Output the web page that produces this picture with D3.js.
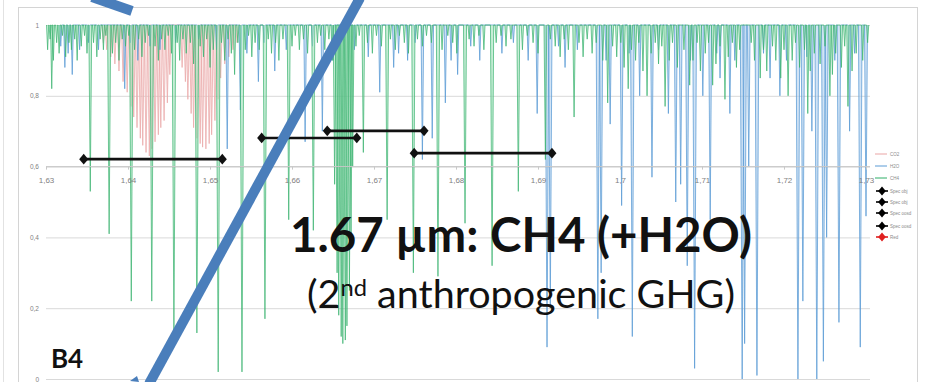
<!DOCTYPE html>
<html>
<head>
<meta charset="utf-8">
<script src="https://cdn.jsdelivr.net/npm/d3@7/dist/d3.min.js"></script>
<style>
  html, body { margin: 0; padding: 0; background: #fff; }
  svg { display: block; }
</style>
</head>
<body>
<svg id="chart" width="926" height="382"></svg>
<script>
// Axis ticks and labels (decimal comma)
const xTicks = [1.63, 1.64, 1.65, 1.66, 1.67, 1.68, 1.69, 1.70, 1.71, 1.72, 1.73];
const xTickLabels = ["1,63", "1,64", "1,65", "1,66", "1,67", "1,68", "1,69", "1,7", "1,71", "1,72", "1,73"];
const yTicks = [0, 0.2, 0.4, 0.6, 0.8, 1];
const yTickLabels = ["0", "0,2", "0,4", "0,6", "0,8", "1"];

// Absorption lines: [wavelength (µm), transmission at line centre]
const co2Lines = [
  [1.6370, .95], [1.6374, .93], [1.6379, .91], [1.6384, .89], [1.6389, .87], [1.6394, .84],
  [1.6399, .81], [1.6404, .77], [1.6407, .74], [1.6411, .71], [1.6415, .68], [1.6418, .66],
  [1.6422, .64], [1.6426, .63], [1.6429, .65], [1.6433, .67], [1.6437, .69], [1.6440, .71],
  [1.6444, .73], [1.6448, .78], [1.6451, .86],
  [1.6466, .88], [1.6470, .84], [1.6473, .79], [1.6477, .75], [1.6480, .71], [1.6484, .68],
  [1.6488, .665], [1.6491, .655], [1.6495, .65], [1.6499, .665], [1.6502, .69], [1.6506, .73],
  [1.6510, .79], [1.6513, .85], [1.6518, .89], [1.6523, .91], [1.6528, .93], [1.6533, .95]
];

const h2oLines = [
  [1.6323, .88], [1.6332, .86], [1.6341, .93], [1.6396, .82], [1.6412, .90], [1.6439, .93],
  [1.6521, .65], [1.6537, .76], [1.6559, .84], [1.6579, .87], [1.6616, .67], [1.6637, .70],
  [1.6693, .91], [1.6707, .81], [1.6724, .88], [1.6741, .90], [1.6759, .62], [1.6771, .68],
  [1.6787, .78], [1.6802, .86], [1.6829, .90], [1.6899, .75], [1.6911, .09], [1.6915, .20],
  [1.6933, .88], [1.6973, .17], [1.6977, .30], [1.6988, .72], [1.7002, .49], [1.7015, .12],
  [1.7024, .80], [1.7039, .57], [1.7059, .75], [1.7068, .50], [1.7074, .55], [1.7082, .32],
  [1.7091, .03], [1.7101, .80], [1.7110, .45], [1.7122, .85], [1.7134, .75], [1.7149, .00],
  [1.7152, .10], [1.7157, .60], [1.7167, .01], [1.7183, .85], [1.7195, .80], [1.7217, .00],
  [1.7223, .22], [1.7234, .70], [1.7240, .00], [1.7248, .05], [1.7252, .40], [1.7267, .16],
  [1.7280, .70], [1.7293, .09], [1.7300, .46],
  // weak lines
  [1.6318, .94], [1.6327, .92], [1.6352, .95], [1.6364, .93], [1.6403, .95], [1.6427, .94],
  [1.6458, .95], [1.6486, .96], [1.6508, .93], [1.6545, .92], [1.6566, .95], [1.6593, .93],
  [1.6625, .94], [1.6650, .90], [1.6676, .93], [1.6730, .92], [1.6750, .95], [1.6794, .90],
  [1.6818, .94], [1.6856, .92], [1.6870, .95], [1.6888, .90], [1.6925, .94], [1.6948, .93],
  [1.6983, .90], [1.7011, .92], [1.7047, .93], [1.7086, .90], [1.7118, .92], [1.7140, .90],
  [1.7175, .92], [1.7203, .90], [1.7228, .91], [1.7262, .90], [1.7286, .92]
];

const ch4Strong = [
  [1.6307, .82], [1.6354, .53], [1.6377, .41], [1.6404, .22], [1.6429, .22], [1.6456, .13],
  [1.6484, .13], [1.6510, .02], [1.6539, .02], [1.6567, .17], [1.6596, .45], [1.6626, .42],
  [1.6652, .55], [1.6655, .30], [1.6657, .18], [1.6660, .12], [1.6662, .10], [1.6665, .11],
  [1.6667, .15], [1.6670, .25], [1.6672, .40], [1.6674, .60],
  [1.6687, .64], [1.6716, .45], [1.6748, .30], [1.6778, .29], [1.6811, .44], [1.6844, .32],
  [1.6876, .53], [1.6909, .62], [1.6944, .74], [1.6985, .78], [1.7010, .82], [1.7033, .80],
  [1.7055, .77], [1.7085, .83], [1.7113, .83], [1.7128, .79], [1.7171, .85], [1.7205, .80],
  [1.7229, .75], [1.7256, .80], [1.7278, .77]
];

const ch4Weak = [
  [1.6302, .93], [1.6305, .96], [1.6309, .90], [1.6313, .95], [1.6316, .92], [1.6320, .97],
  [1.6324, .91], [1.6328, .95], [1.6331, .93], [1.6335, .96], [1.6338, .90], [1.6343, .94],
  [1.6347, .97], [1.6350, .92], [1.6358, .95], [1.6362, .91], [1.6366, .96], [1.6370, .93],
  [1.6373, .97], [1.6381, .92], [1.6385, .95], [1.6389, .90], [1.6393, .96], [1.6397, .94],
  [1.6401, .97], [1.6408, .93], [1.6413, .96], [1.6417, .91], [1.6421, .95], [1.6425, .97],
  [1.6433, .94], [1.6437, .90], [1.6441, .96], [1.6445, .93], [1.6449, .97], [1.6453, .92],
  [1.6460, .95], [1.6463, .90], [1.6467, .96], [1.6471, .92], [1.6476, .95], [1.6480, .89],
  [1.6488, .94], [1.6492, .91], [1.6496, .96], [1.6500, .88], [1.6504, .93], [1.6514, .95],
  [1.6518, .90], [1.6522, .96], [1.6526, .92], [1.6530, .86], [1.6534, .95], [1.6543, .93],
  [1.6547, .97], [1.6551, .91], [1.6555, .95], [1.6560, .93], [1.6571, .96], [1.6575, .92],
  [1.6580, .95], [1.6584, .90], [1.6589, .96], [1.6600, .94], [1.6604, .97], [1.6609, .93],
  [1.6614, .96], [1.6619, .92], [1.6631, .95], [1.6635, .97], [1.6640, .93], [1.6645, .96],
  [1.6649, .90], [1.6678, .94], [1.6682, .97], [1.6692, .95], [1.6698, .92], [1.6703, .97],
  [1.6709, .94], [1.6720, .96], [1.6726, .93], [1.6731, .97], [1.6737, .95], [1.6742, .92],
  [1.6753, .96], [1.6759, .94], [1.6764, .97], [1.6770, .95], [1.6783, .93], [1.6790, .97],
  [1.6796, .95], [1.6801, .92], [1.6816, .96], [1.6822, .94], [1.6828, .97], [1.6834, .93],
  [1.6849, .95], [1.6855, .97], [1.6861, .94], [1.6867, .96], [1.6881, .93], [1.6887, .97],
  [1.6894, .95], [1.6900, .92], [1.6915, .96], [1.6921, .94], [1.6927, .91], [1.6932, .96],
  [1.6937, .93], [1.6950, .95], [1.6955, .91], [1.6960, .96], [1.6966, .92], [1.6971, .95],
  [1.6979, .90], [1.6991, .94], [1.6996, .91], [1.7001, .95], [1.7005, .88], [1.7014, .93],
  [1.7019, .90], [1.7023, .95], [1.7028, .87], [1.7038, .92], [1.7043, .95], [1.7047, .89],
  [1.7051, .94], [1.7060, .90], [1.7064, .95], [1.7070, .88], [1.7078, .93], [1.7089, .90],
  [1.7094, .95], [1.7098, .87], [1.7104, .92], [1.7108, .95], [1.7117, .89], [1.7122, .94],
  [1.7132, .91], [1.7137, .95], [1.7142, .88], [1.7146, .93], [1.7160, .95], [1.7164, .90],
  [1.7175, .93], [1.7179, .87], [1.7186, .94], [1.7190, .90], [1.7196, .85], [1.7200, .93],
  [1.7210, .90], [1.7214, .95], [1.7219, .88], [1.7225, .93], [1.7232, .87], [1.7237, .92],
  [1.7244, .89], [1.7250, .94], [1.7259, .86], [1.7263, .92], [1.7270, .88], [1.7274, .94],
  [1.7283, .87], [1.7288, .92], [1.7296, .90], [1.7302, .95]
];

// Spectral windows of the instrument channels (drawn as double-ended bars)
const specNames = ["Spec obj", "Spec obj", "Spec oosd", "Spec oosd"];
const specFrom  = [1.6346, 1.6563, 1.6643, 1.6749];
const specTo    = [1.6515, 1.6679, 1.6761, 1.6917];
const specLevel = [0.621, 0.681, 0.701, 0.638];

const legendNames = ["CO2", "H2O", "CH4", "Spec obj", "Spec obj", "Spec oosd", "Spec oosd", "Red"];

const svg = d3.select("#chart");
const W = 926, H = 382;

const x = d3.scaleLinear().domain([1.63, 1.73]).range([46, 866]);
const y = d3.scaleLinear().domain([0, 1]).range([379, 25]);

// chart frame
svg.append("rect").attr("x", 18.5).attr("y", 7.5).attr("width", 899).attr("height", 380)
  .attr("fill", "none").attr("stroke", "#d4d4d4").attr("stroke-width", 1);
svg.append("line").attr("x1", 3.5).attr("x2", 3.5).attr("y1", 0).attr("y2", H)
  .attr("stroke", "#e2e2e2");

// horizontal gridlines + y labels
const yAxis = svg.append("g").attr("transform", "translate(46,0)")
  .call(d3.axisLeft(y).tickValues(yTicks).tickSize(-824).tickPadding(7)
    .tickFormat((d, i) => yTickLabels[i]));
yAxis.select(".domain").remove();
yAxis.selectAll(".tick line").attr("stroke", "#d9d9d9");
yAxis.selectAll(".tick text").attr("fill", "#7f7f7f").style("font", "6.5px 'Liberation Sans', sans-serif");

// half-width of a drawn line profile, wider for stronger lines
const hw = (d, k) => k * (0.00013 + 0.00010 * (1 - d));

function spectrumPoints(lines, k) {
  const pts = [];
  lines.slice().sort((a, b) => a[0] - b[0]).forEach(([l, d]) => {
    pts.push([l - hw(d, k), 1], [l, d], [l + hw(d, k), 1]);
  });
  return pts;
}

const lineGen = d3.line().x(d => x(d[0])).y(d => y(d[1]));

const spectra = svg.append("g").attr("class", "spectra");
const gases = [
  { lines: co2Lines, k: 1.35, stroke: "#eaa9a9", fill: "#f7d3d3", op: 0.85 },
  { lines: h2oLines, k: 1.0, stroke: "#5b9bd5", fill: "#b3d1ee", op: 0.85 },
  { lines: ch4Strong.concat(ch4Weak), k: 1.0, stroke: "#3bb36f", fill: "#a3e2bd", op: 0.8 }
];
gases.forEach(g => {
  spectra.append("path")
    .datum(spectrumPoints(g.lines, g.k))
    .attr("d", lineGen)
    .attr("fill", g.fill).attr("fill-opacity", 0.6)
    .attr("stroke", g.stroke).attr("stroke-width", 0.9)
    .attr("stroke-opacity", g.op)
    .attr("stroke-linejoin", "miter");
});

// horizontal axis crossing at 0.6
const xAxis = svg.append("g").attr("transform", `translate(0,${y(0.6)})`)
  .call(d3.axisBottom(x).tickValues(xTicks).tickSize(3).tickPadding(8)
    .tickFormat((d, i) => xTickLabels[i]));
xAxis.select(".domain").attr("stroke", "#c8c8c8").attr("d", `M46,0H870`);
xAxis.selectAll(".tick line").attr("stroke", "#c8c8c8");
xAxis.selectAll(".tick text").attr("fill", "#7f7f7f").style("font", "8px 'Liberation Sans', sans-serif");

// channel windows
const diamond = d3.symbol().type(d3.symbolDiamond).size(42);
const specG = svg.append("g");
specFrom.forEach((f, i) => {
  const yy = y(specLevel[i]);
  specG.append("line").attr("x1", x(f)).attr("x2", x(specTo[i]))
    .attr("y1", yy).attr("y2", yy).attr("stroke", "#111").attr("stroke-width", 2.6);
  [f, specTo[i]].forEach(v => {
    specG.append("path").attr("d", diamond)
      .attr("transform", `translate(${x(v)},${yy}) scale(1.3,0.9)`).attr("fill", "#111");
  });
});

// legend
const lg = svg.append("g").style("font", "4.5px 'Liberation Sans', sans-serif");
const legendY = [154, 166, 178, 191, 202, 213, 226, 237];
const legendColors = ["#eaa5a5", "#5b9bd5", "#2fae66", "#000", "#000", "#000", "#000", "#e02020"];
legendNames.forEach((n, i) => {
  const yy = legendY[i];
  if (i < 3) {
    lg.append("line").attr("x1", 875).attr("x2", 887).attr("y1", yy).attr("y2", yy)
      .attr("stroke", legendColors[i]).attr("stroke-width", 1);
  } else {
    lg.append("line").attr("x1", 876).attr("x2", 888).attr("y1", yy).attr("y2", yy)
      .attr("stroke", legendColors[i]).attr("stroke-width", 1.6);
    lg.append("path").attr("d", d3.symbol().type(d3.symbolDiamond).size(30))
      .attr("transform", `translate(882,${yy}) scale(1.3,0.9)`).attr("fill", legendColors[i]);
  }
  lg.append("text").attr("x", 890).attr("y", yy + 1.6).attr("fill", "#8a8a8a").text(n);
});

// diagonal pointer shapes
svg.append("line").attr("x1", 360).attr("y1", -2).attr("x2", 149).attr("y2", 384)
  .attr("stroke", "#4a7ebb").attr("stroke-width", 10);
svg.append("line").attr("x1", 92).attr("y1", -3).attr("x2", 132).attr("y2", 11)
  .attr("stroke", "#4a7ebb").attr("stroke-width", 10);
svg.append("path").attr("d", "M130,381 L137,376 L139,382 Z").attr("fill", "#4a7ebb");

// annotation texts
const title = svg.append("text").attr("x", 521).attr("y", 252).attr("text-anchor", "middle")
  .attr("fill", "#111").style("font-family", "Lato, 'Open Sans', sans-serif")
  .style("font-weight", 700).style("font-size", "44px")
  .text("1.67 µm: CH4 (+H2O)");
const sub = svg.append("text").attr("x", 521).attr("y", 308).attr("text-anchor", "middle")
  .attr("fill", "#111").style("font-family", "Lato, 'Open Sans', sans-serif")
  .style("font-size", "31px");
sub.append("tspan").text("(2");
sub.append("tspan").attr("dy", -12).style("font-size", "0.6em").text("nd");
sub.append("tspan").attr("dy", 12).text(" anthropogenic GHG)");

// fit annotation widths
function fit(t, target) {
  const w = t.node().getComputedTextLength();
  const fs = parseFloat(t.style("font-size"));
  t.style("font-size", (fs * target / w) + "px");
}
fit(title, 462);
fit(sub, 428);

svg.append("text").attr("x", 51).attr("y", 368).attr("fill", "#111")
  .style("font-family", "Lato, 'Open Sans', sans-serif").style("font-weight", 700)
  .style("font-size", "26px").text("B4");
</script>
</body>
</html>
